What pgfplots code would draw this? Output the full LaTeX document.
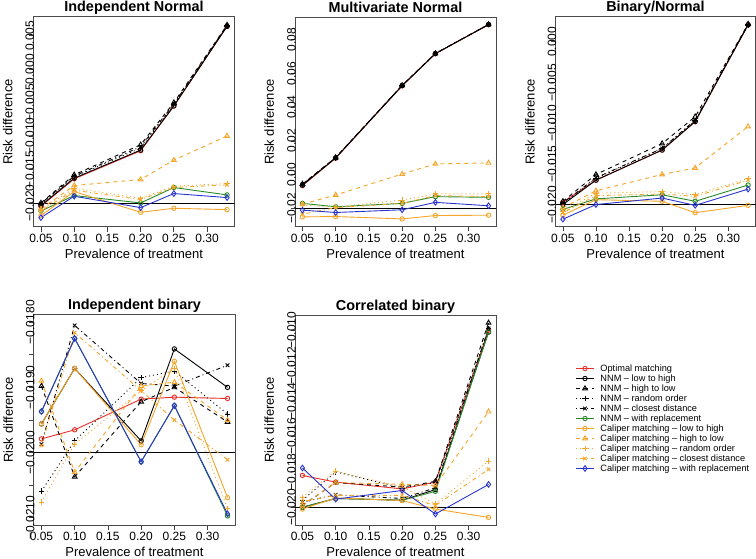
\documentclass[border=0pt]{standalone}
\usepackage{fontspec}
\setmainfont{Liberation Sans}
\usepackage{pgfplots}
\pgfplotsset{compat=1.18}

\definecolor{cred}{HTML}{E8302A}
\definecolor{cgreen}{HTML}{2A8A2A}
\definecolor{corange}{HTML}{F5A52A}
\definecolor{cblue}{HTML}{2A35D0}

\pgfplotsset{
  every axis title shift=0pt,
  panel/.style={
    scale only axis, width=201pt, height=210pt,
    xmin=0.0388, xmax=0.3412,
    xtick={0.05,0.10,0.15,0.20,0.25,0.30},
    xticklabels={0.05,0.10,0.15,0.20,0.25,0.30},
    scaled ticks=false,
    xtick pos=left, ytick pos=left,
    tick align=outside, major tick length=4.5pt,
    tick style={black!75, line width=0.8pt},
    axis line style={black!70, line width=1pt},
    ticklabel style={font=\fontsize{12}{13}\selectfont},
    xticklabel style={inner sep=2pt},
    yticklabel style={xshift=5pt, rotate=90, anchor=base, inner sep=0pt},
    xlabel={Prevalence of treatment},
    ylabel={Risk difference},
    label style={font=\fontsize{13}{14}\selectfont},
    xlabel style={at={(axis description cs:0.5,0)}, anchor=base, yshift=-31pt},
    ylabel style={at={(axis description cs:-0.105,0.5)}, anchor=base},
    title style={font=\fontsize{14.4}{15}\selectfont\bfseries, at={(axis description cs:0.5,1)}, anchor=base, yshift=5pt},
  },
  every axis plot/.append style={line width=0.9pt, mark options={solid}},
  s1/.style={cred, solid, mark=o, mark size=2.2pt},
  s2/.style={black, solid, mark=o, mark size=2.2pt},
  s3/.style={black, dash pattern=on 4pt off 4pt, mark=triangle, mark size=2.7pt},
  s4/.style={black, dash pattern=on 1pt off 3pt, mark=+, mark size=2.7pt},
  s5/.style={black, dash pattern=on 1pt off 3pt on 4pt off 3pt, mark=x, mark size=2.5pt},
  s6/.style={cgreen, solid, mark=o, mark size=2.2pt},
  s7/.style={corange, solid, mark=o, mark size=2.2pt},
  s8/.style={corange, dash pattern=on 4pt off 4pt, mark=triangle, mark size=2.7pt},
  s9/.style={corange, dash pattern=on 1pt off 3pt, mark=+, mark size=2.7pt},
  s10/.style={corange, dash pattern=on 1pt off 3pt on 4pt off 3pt, mark=x, mark size=2.5pt},
  s11/.style={cblue, solid, mark=diamond, mark size=2.8pt},
  zero/.style={black, solid, line width=0.8pt, forget plot, mark=none},
}

\begin{document}
\begin{tikzpicture}
\useasboundingbox (0pt,0pt) rectangle (756pt,558pt);

% Independent Normal
\begin{axis}[panel, at={(33.5pt,331pt)}, anchor=south west, title={Independent Normal},
  ymin=-0.0236, ymax=0.0078,
  ytick={-0.020,-0.015,-0.010,-0.005,0,0.005},
  yticklabels={−0.020,−0.015,−0.010,−0.005,0.000,0.005}]
\addplot[zero] coordinates {(0.0388,-0.02) (0.3412,-0.02)};
\addplot[s1] coordinates {(0.05,-0.0205) (0.10,-0.0164) (0.20,-0.0122) (0.25,-0.0055) (0.33,0.0064)};
\addplot[s2] coordinates {(0.05,-0.0204) (0.10,-0.0163) (0.20,-0.0121) (0.25,-0.0055) (0.33,0.0064)};
\addplot[s3] coordinates {(0.05,-0.0200) (0.10,-0.0158) (0.20,-0.0113) (0.25,-0.0050) (0.33,0.0066)};
\addplot[s4] coordinates {(0.05,-0.0202) (0.10,-0.0161) (0.20,-0.0118) (0.25,-0.0053) (0.33,0.0065)};
\addplot[s5] coordinates {(0.05,-0.0201) (0.10,-0.0160) (0.20,-0.0116) (0.25,-0.0052) (0.33,0.0065)};
\addplot[s6] coordinates {(0.05,-0.0212) (0.10,-0.0189) (0.20,-0.0200) (0.25,-0.0177) (0.33,-0.0188)};
\addplot[s7] coordinates {(0.05,-0.0219) (0.10,-0.0183) (0.20,-0.0214) (0.25,-0.0208) (0.33,-0.0210)};
\addplot[s8] coordinates {(0.05,-0.0209) (0.10,-0.0174) (0.20,-0.0165) (0.25,-0.0136) (0.33,-0.0100)};
\addplot[s9] coordinates {(0.05,-0.0210) (0.10,-0.0178) (0.20,-0.0193) (0.25,-0.0175) (0.33,-0.0171)};
\addplot[s10] coordinates {(0.05,-0.0212) (0.10,-0.0181) (0.20,-0.0195) (0.25,-0.0177) (0.33,-0.0173)};
\addplot[s11] coordinates {(0.05,-0.0222) (0.10,-0.0190) (0.20,-0.0207) (0.25,-0.0186) (0.33,-0.0192)};
\end{axis}

% Multivariate Normal
\begin{axis}[panel, at={(295pt,331pt)}, anchor=south west, title={Multivariate Normal},
  ymin=-0.031, ymax=0.0935,
  ytick={-0.02,0,0.02,0.04,0.06,0.08},
  yticklabels={−0.02,0.00,0.02,0.04,0.06,0.08}]
\addplot[zero] coordinates {(0.0388,-0.02) (0.3412,-0.02)};
\addplot[s1] coordinates {(0.05,-0.0065) (0.10,0.0098) (0.20,0.0527) (0.25,0.0717) (0.33,0.0890)};
\addplot[s2] coordinates {(0.05,-0.0062) (0.10,0.0100) (0.20,0.0528) (0.25,0.0718) (0.33,0.0890)};
\addplot[s3] coordinates {(0.05,-0.0055) (0.10,0.0102) (0.20,0.0530) (0.25,0.0719) (0.33,0.0891)};
\addplot[s4] coordinates {(0.05,-0.0060) (0.10,0.0100) (0.20,0.0529) (0.25,0.0718) (0.33,0.0890)};
\addplot[s5] coordinates {(0.05,-0.0058) (0.10,0.0101) (0.20,0.0529) (0.25,0.0718) (0.33,0.0891)};
\addplot[s6] coordinates {(0.05,-0.0170) (0.10,-0.0190) (0.20,-0.0170) (0.25,-0.0130) (0.33,-0.0134)};
\addplot[s7] coordinates {(0.05,-0.0250) (0.10,-0.0248) (0.20,-0.0262) (0.25,-0.0242) (0.33,-0.0240)};
\addplot[s8] coordinates {(0.05,-0.0175) (0.10,-0.0120) (0.20,0.0004) (0.25,0.0064) (0.33,0.0070)};
\addplot[s9] coordinates {(0.05,-0.0180) (0.10,-0.0192) (0.20,-0.0150) (0.25,-0.0114) (0.33,-0.0114)};
\addplot[s10] coordinates {(0.05,-0.0234) (0.10,-0.0195) (0.20,-0.0170) (0.25,-0.0124) (0.33,-0.0130)};
\addplot[s11] coordinates {(0.05,-0.0210) (0.10,-0.0224) (0.20,-0.0208) (0.25,-0.0164) (0.33,-0.0184)};
\end{axis}

% Binary/Normal
\begin{axis}[panel, at={(555.5pt,331pt)}, anchor=south west, width=200pt, title={Binary/Normal},
  ymin=-0.02276, ymax=0.00306,
  ytick={-0.020,-0.015,-0.010,-0.005,0},
  yticklabels={−0.020,−0.015,−0.010,−0.005,0.000}]
\addplot[zero] coordinates {(0.0388,-0.02) (0.3412,-0.02)};
\addplot[s1] coordinates {(0.05,-0.0197) (0.10,-0.0170) (0.20,-0.0133) (0.25,-0.0098) (0.33,0.0021)};
\addplot[s2] coordinates {(0.05,-0.0200) (0.10,-0.0170) (0.20,-0.0133) (0.25,-0.0098) (0.33,0.0021)};
\addplot[s3] coordinates {(0.05,-0.0196) (0.10,-0.0163) (0.20,-0.0125) (0.25,-0.0092) (0.33,0.0022)};
\addplot[s4] coordinates {(0.05,-0.0199) (0.10,-0.0168) (0.20,-0.0131) (0.25,-0.0097) (0.33,0.0021)};
\addplot[s5] coordinates {(0.05,-0.0198) (0.10,-0.0167) (0.20,-0.0131) (0.25,-0.0096) (0.33,0.0021)};
\addplot[s6] coordinates {(0.05,-0.0206) (0.10,-0.0193) (0.20,-0.0188) (0.25,-0.0196) (0.33,-0.0176)};
\addplot[s7] coordinates {(0.05,-0.0213) (0.10,-0.0194) (0.20,-0.0196) (0.25,-0.0210) (0.33,-0.0201)};
\addplot[s8] coordinates {(0.05,-0.0204) (0.10,-0.0183) (0.20,-0.0163) (0.25,-0.0155) (0.33,-0.0104)};
\addplot[s9] coordinates {(0.05,-0.0208) (0.10,-0.0186) (0.20,-0.0184) (0.25,-0.0188) (0.33,-0.0168)};
\addplot[s10] coordinates {(0.05,-0.0210) (0.10,-0.0189) (0.20,-0.0187) (0.25,-0.0190) (0.33,-0.0170)};
\addplot[s11] coordinates {(0.05,-0.0218) (0.10,-0.0200) (0.20,-0.0192) (0.25,-0.0201) (0.33,-0.0181)};
\end{axis}

% Independent binary
\begin{axis}[panel, at={(34pt,33pt)}, anchor=south west, title={Independent binary},
  ymin=-0.02111, ymax=-0.01789,
  ytick={-0.021,-0.0205,-0.020,-0.0195,-0.019,-0.0185,-0.018},
  yticklabels={−0.0210,,−0.0200,,−0.0190,,−0.0180}]
\addplot[zero] coordinates {(0.0388,-0.02) (0.3412,-0.02)};
\addplot[s1] coordinates {(0.05,-0.01979) (0.10,-0.01965) (0.20,-0.01918) (0.25,-0.01915) (0.33,-0.01917)};
\addplot[s2] coordinates {(0.05,-0.01956) (0.10,-0.01871) (0.20,-0.01982) (0.25,-0.01841) (0.33,-0.01900)};
\addplot[s3] coordinates {(0.05,-0.01898) (0.10,-0.02037) (0.20,-0.01922) (0.25,-0.01900) (0.33,-0.01953)};
\addplot[s4] coordinates {(0.05,-0.02059) (0.10,-0.01982) (0.20,-0.01885) (0.25,-0.01875) (0.33,-0.01941)};
\addplot[s5] coordinates {(0.05,-0.01987) (0.10,-0.01805) (0.20,-0.01894) (0.25,-0.01898) (0.33,-0.01866)};
\addplot[s6] coordinates {(0.05,-0.01937) (0.10,-0.01825) (0.20,-0.02014) (0.25,-0.01928) (0.33,-0.02097)};
\addplot[s7] coordinates {(0.05,-0.01956) (0.10,-0.01871) (0.20,-0.01988) (0.25,-0.01860) (0.33,-0.02069)};
\addplot[s8] coordinates {(0.05,-0.01890) (0.10,-0.02030) (0.20,-0.01898) (0.25,-0.01892) (0.33,-0.01950)};
\addplot[s9] coordinates {(0.05,-0.02076) (0.10,-0.01987) (0.20,-0.01905) (0.25,-0.01871) (0.33,-0.02086)};
\addplot[s10] coordinates {(0.05,-0.01989) (0.10,-0.01816) (0.20,-0.01905) (0.25,-0.01950) (0.33,-0.02011)};
\addplot[s11] coordinates {(0.05,-0.01937) (0.10,-0.01825) (0.20,-0.02014) (0.25,-0.01928) (0.33,-0.02094)};
\end{axis}

% Correlated binary
\begin{axis}[panel, at={(295pt,33pt)}, anchor=south west, title={Correlated binary},
  ymin=-0.0210, ymax=-0.00914,
  ytick={-0.020,-0.018,-0.016,-0.014,-0.012,-0.010},
  yticklabels={−0.020,−0.018,−0.016,−0.014,−0.012,−0.010},
  legend style={draw=none, fill=none, at={(axis description cs:1.397,0.77)}, anchor=north west,
    font=\fontsize{9.2}{10}\selectfont, row sep=0pt, column sep=6pt, inner sep=0pt,
    nodes={inner sep=0.5pt, text height=7pt, text depth=2pt}},
  legend cell align=left]
\addplot[zero] coordinates {(0.0388,-0.02) (0.3412,-0.02)};
\addplot[s1] coordinates {(0.05,-0.01820) (0.10,-0.01858) (0.20,-0.01896) (0.25,-0.01858) (0.33,-0.01000)};
\addlegendentry{Optimal matching}
\addplot[s2] coordinates {(0.05,-0.02000) (0.10,-0.01950) (0.20,-0.01960) (0.25,-0.01900) (0.33,-0.01010)};
\addlegendentry{NNM – low to high}
\addplot[s3] coordinates {(0.05,-0.01990) (0.10,-0.01860) (0.20,-0.01886) (0.25,-0.01854) (0.33,-0.00958)};
\addlegendentry{NNM – high to low}
\addplot[s4] coordinates {(0.05,-0.01960) (0.10,-0.01800) (0.20,-0.01890) (0.25,-0.01860) (0.33,-0.00990)};
\addlegendentry{NNM – random order}
\addplot[s5] coordinates {(0.05,-0.01970) (0.10,-0.01930) (0.20,-0.01950) (0.25,-0.01890) (0.33,-0.00990)};
\addlegendentry{NNM – closest distance}
\addplot[s6] coordinates {(0.05,-0.02000) (0.10,-0.01950) (0.20,-0.01960) (0.25,-0.01910) (0.33,-0.01010)};
\addlegendentry{NNM – with replacement}
\addplot[s7] coordinates {(0.05,-0.02010) (0.10,-0.01947) (0.20,-0.01962) (0.25,-0.02010) (0.33,-0.02057)};
\addlegendentry{Caliper matching – low to high}
\addplot[s8] coordinates {(0.05,-0.01990) (0.10,-0.01860) (0.20,-0.01870) (0.25,-0.01877) (0.33,-0.01460)};
\addlegendentry{Caliper matching – high to low}
\addplot[s9] coordinates {(0.05,-0.01943) (0.10,-0.01795) (0.20,-0.01886) (0.25,-0.01981) (0.33,-0.01739)};
\addlegendentry{Caliper matching – random order}
\addplot[s10] coordinates {(0.05,-0.01967) (0.10,-0.01933) (0.20,-0.01933) (0.25,-0.01990) (0.33,-0.01786)};
\addlegendentry{Caliper matching – closest distance}
\addplot[s11] coordinates {(0.05,-0.01778) (0.10,-0.01954) (0.20,-0.01905) (0.25,-0.02038) (0.33,-0.01871)};
\addlegendentry{Caliper matching – with replacement}
\end{axis}
\end{tikzpicture}
\end{document}
